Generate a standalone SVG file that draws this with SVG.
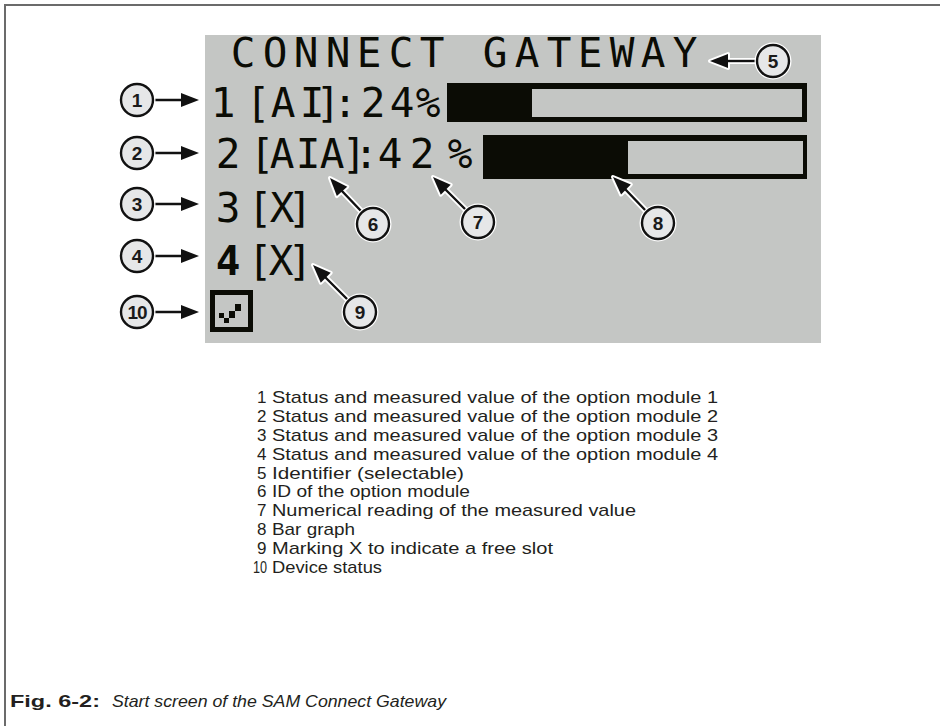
<svg xmlns="http://www.w3.org/2000/svg" width="940" height="726" viewBox="0 0 940 726">
<style>
.frame{stroke:#6b6b6b;stroke-width:2;fill:none}
.lcd{font-family:"DejaVu Sans Mono","Liberation Mono",monospace;font-size:41px;fill:#0b0c05;text-anchor:middle}
.blk{fill:#0b0c05}
.cc-h{fill:#fff}
.cc{fill:#e6e7e8;stroke:#111;stroke-width:2.4}
.cn{font-family:"Liberation Sans",Arial,sans-serif;font-size:19px;font-weight:bold;fill:#1a1a1a;text-anchor:middle}
.ln-h{stroke:#fff;stroke-width:6;fill:none}
.ln{stroke:#111;stroke-width:2.4;fill:none}
.ah-h{fill:#fff;stroke:#fff;stroke-width:4;stroke-linejoin:round}
.ah{fill:#111}
.lg{font-family:"Liberation Sans",Arial,sans-serif;font-size:17px;fill:#231f20}
</style>
<defs>
<polygon id="head" points="0,0 -18,-7 -18,7"/>
</defs>
<rect width="940" height="726" fill="#fff"/>
<path class="frame" d="M5,726 V5 H940"/>
<g id="screen">
<rect x="205" y="35" width="616" height="308" fill="#c4c6c4"/>
<text class="lcd" x="243 275 306 338 369 401 432 464 495 527 559 590 622 653 685" y="67">CONNECT GATEWAY</text>
<text class="lcd" x="223 258 283 312 328 345 373 402 428" y="117">1[AI]:24%</text>
<rect class="blk" x="447" y="83" width="360" height="39"/>
<rect x="532" y="89" width="270" height="28" fill="#c4c6c4"/>
<text class="lcd" x="228 262 282 308 332 354 366 390 422 460" y="168">2[AIA]:42%</text>
<rect class="blk" x="483" y="135" width="324" height="44"/>
<rect x="628" y="141" width="175" height="33" fill="#c4c6c4"/>
<text class="lcd" x="228 260 282 300" y="222">3[X]</text>
<text class="lcd" x="228 260 281 300" y="275"><tspan font-weight="bold">4</tspan>[X]</text>
<rect class="blk" x="210" y="290" width="43" height="42"/>
<rect x="215" y="295" width="33" height="32" fill="#c4c6c4"/>
<rect class="blk" x="219" y="313" width="5" height="5"/>
<rect class="blk" x="224" y="318" width="5" height="5"/>
<rect class="blk" x="229" y="311" width="6" height="7"/>
<rect class="blk" x="235" y="304" width="6" height="7"/>
</g>
<g id="connectors">
<g>
<path class="ln-h" d="M757,61 H726"/><use href="#head" class="ah-h" transform="translate(710,61) rotate(180)"/>
<path class="ln" d="M757,61 H726"/><use href="#head" class="ah" transform="translate(710,61) rotate(180)"/>
</g>
<g>
<path class="ln-h" d="M153,100 H183 M153,153 H183 M153,204 H183 M153,256 H183 M153,312 H183"/>
<use href="#head" class="ah-h" transform="translate(199,100)"/>
<use href="#head" class="ah-h" transform="translate(199,153)"/>
<use href="#head" class="ah-h" transform="translate(199,204)"/>
<use href="#head" class="ah-h" transform="translate(199,256)"/>
<use href="#head" class="ah-h" transform="translate(199,312)"/>
<path class="ln" d="M153,100 H183 M153,153 H183 M153,204 H183 M153,256 H183 M153,312 H183"/>
<use href="#head" class="ah" transform="translate(199,100)"/>
<use href="#head" class="ah" transform="translate(199,153)"/>
<use href="#head" class="ah" transform="translate(199,204)"/>
<use href="#head" class="ah" transform="translate(199,256)"/>
<use href="#head" class="ah" transform="translate(199,312)"/>
</g>
<g>
<path class="ln-h" d="M362,212 L341,190 M467,211 L445,189 M647,212 L625,189 M349,301 L325,277"/>
<use href="#head" class="ah-h" transform="translate(330,178) rotate(-132)"/>
<use href="#head" class="ah-h" transform="translate(433,177) rotate(-135)"/>
<use href="#head" class="ah-h" transform="translate(613,177) rotate(-136)"/>
<use href="#head" class="ah-h" transform="translate(313,265) rotate(-135)"/>
<path class="ln" d="M362,212 L341,190 M467,211 L445,189 M647,212 L625,189 M349,301 L325,277"/>
<use href="#head" class="ah" transform="translate(330,178) rotate(-132)"/>
<use href="#head" class="ah" transform="translate(433,177) rotate(-135)"/>
<use href="#head" class="ah" transform="translate(613,177) rotate(-136)"/>
<use href="#head" class="ah" transform="translate(313,265) rotate(-135)"/>
</g>
</g>
<g id="c5"><circle class="cc-h" cx="773" cy="61" r="18.5"/><circle class="cc" cx="773" cy="61" r="16"/><text class="cn" x="773" y="68">5</text></g>
<g id="c1"><circle class="cc-h" cx="137" cy="100" r="18.5"/><circle class="cc" cx="137" cy="100" r="16"/><text class="cn" x="137" y="107">1</text></g>
<g id="c2"><circle class="cc-h" cx="137" cy="153" r="18.5"/><circle class="cc" cx="137" cy="153" r="16"/><text class="cn" x="137" y="160">2</text></g>
<g id="c3"><circle class="cc-h" cx="137" cy="204" r="18.5"/><circle class="cc" cx="137" cy="204" r="16"/><text class="cn" x="137" y="211">3</text></g>
<g id="c4"><circle class="cc-h" cx="137" cy="256" r="18.5"/><circle class="cc" cx="137" cy="256" r="16"/><text class="cn" x="137" y="263">4</text></g>
<g id="c10"><circle class="cc-h" cx="137" cy="312" r="18.5"/><circle class="cc" cx="137" cy="312" r="16"/><text class="cn" x="137" y="319" letter-spacing="-1">10</text></g>
<g id="c6"><circle class="cc-h" cx="373" cy="224" r="18.5"/><circle class="cc" cx="373" cy="224" r="16"/><text class="cn" x="373" y="231">6</text></g>
<g id="c7"><circle class="cc-h" cx="478" cy="222" r="18.5"/><circle class="cc" cx="478" cy="222" r="16"/><text class="cn" x="478" y="229">7</text></g>
<g id="c8"><circle class="cc-h" cx="658" cy="223" r="18.5"/><circle class="cc" cx="658" cy="223" r="16"/><text class="cn" x="658" y="230">8</text></g>
<g id="c9"><circle class="cc-h" cx="360" cy="312" r="18.5"/><circle class="cc" cx="360" cy="312" r="16"/><text class="cn" x="360" y="319">9</text></g>
<g id="legend" class="lg">
<text x="257" y="403">1</text><text x="272" y="403" textLength="446" lengthAdjust="spacingAndGlyphs">Status and measured value of the option module 1</text>
<text x="257" y="422">2</text><text x="272" y="422" textLength="446" lengthAdjust="spacingAndGlyphs">Status and measured value of the option module 2</text>
<text x="257" y="441">3</text><text x="272" y="441" textLength="446" lengthAdjust="spacingAndGlyphs">Status and measured value of the option module 3</text>
<text x="257" y="460">4</text><text x="272" y="460" textLength="446" lengthAdjust="spacingAndGlyphs">Status and measured value of the option module 4</text>
<text x="257" y="479">5</text><text x="272" y="479" textLength="192" lengthAdjust="spacingAndGlyphs">Identifier (selectable)</text>
<text x="257" y="497">6</text><text x="272" y="497" textLength="198" lengthAdjust="spacingAndGlyphs">ID of the option module</text>
<text x="257" y="516">7</text><text x="272" y="516" textLength="364" lengthAdjust="spacingAndGlyphs">Numerical reading of the measured value</text>
<text x="257" y="535">8</text><text x="272" y="535" textLength="83" lengthAdjust="spacingAndGlyphs">Bar graph</text>
<text x="257" y="554">9</text><text x="272" y="554" textLength="281" lengthAdjust="spacingAndGlyphs">Marking X to indicate a free slot</text>
<text x="253" y="573" textLength="14" lengthAdjust="spacingAndGlyphs">10</text><text x="272" y="573" textLength="110" lengthAdjust="spacingAndGlyphs">Device status</text>
</g>
<g id="caption" class="lg" font-size="19">
<text x="10" y="707" font-weight="bold" textLength="90" lengthAdjust="spacingAndGlyphs">Fig. 6-2:</text>
<text x="112" y="707" font-style="italic" textLength="334" lengthAdjust="spacingAndGlyphs">Start screen of the SAM Connect Gateway</text>
</g>
</svg>
